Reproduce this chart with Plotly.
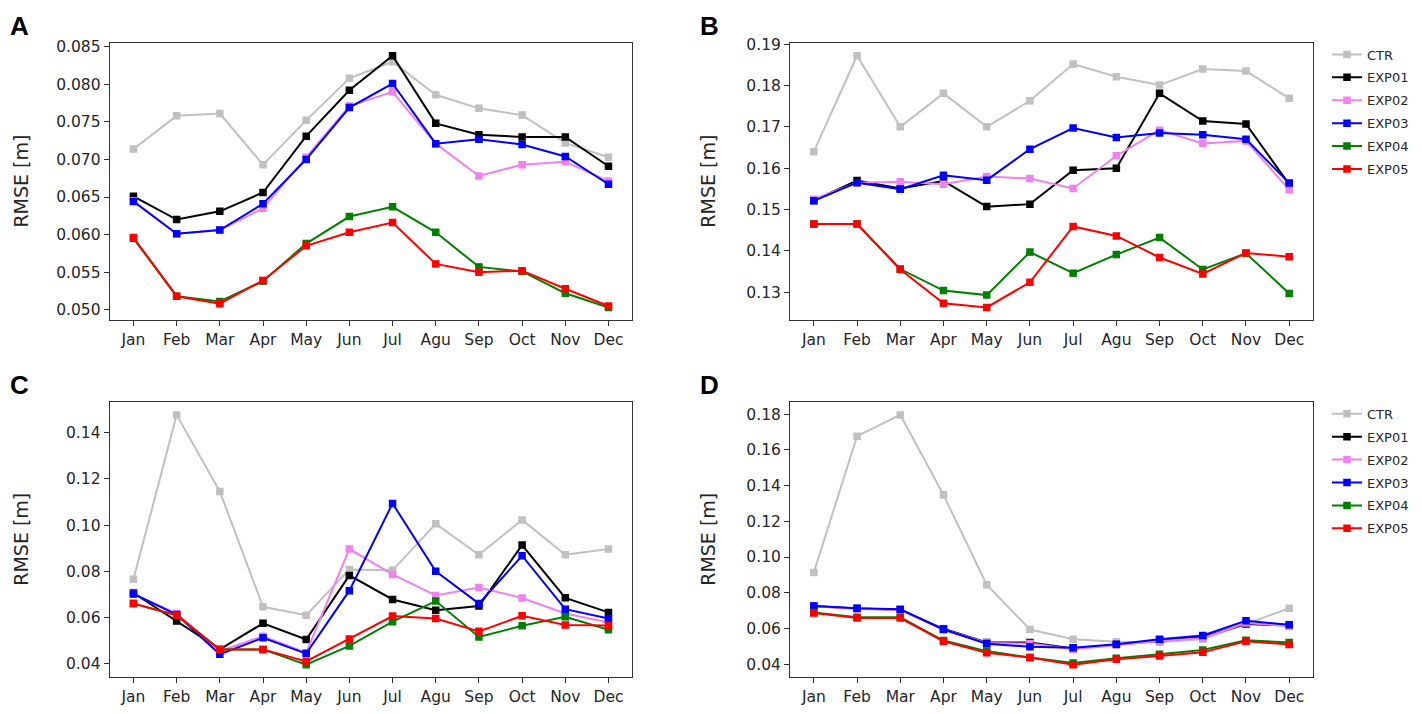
import plotly.graph_objects as go

# The page body has an 8px margin, so the figure is drawn 8px in from the top-left.
OFF = 8
W, H = 1422 - 2 * OFF, 714 - 2 * OFF

months = ["Jan", "Feb", "Mar", "Apr", "May", "Jun", "Jul", "Agu", "Sep", "Oct", "Nov", "Dec"]
series_names = ["CTR", "EXP01", "EXP02", "EXP03", "EXP04", "EXP05"]
series_colors = ["#c0c0c0", "#000000", "#ee82ee", "#0000ff", "#008000", "#ff0000"]

# Panel A
a_ctr   = [0.0714, 0.0758, 0.0761, 0.0693, 0.0752, 0.0808, 0.0830, 0.0786, 0.0768, 0.0759, 0.0722, 0.0703]
a_exp01 = [0.0651, 0.0620, 0.0631, 0.0656, 0.0731, 0.0792, 0.0838, 0.0748, 0.0733, 0.0730, 0.0730, 0.0691]
a_exp02 = [0.0645, 0.0601, 0.0606, 0.0635, 0.0703, 0.0771, 0.0790, 0.0721, 0.0678, 0.0693, 0.0697, 0.0671]
a_exp03 = [0.0644, 0.0601, 0.0606, 0.0641, 0.0700, 0.0769, 0.0801, 0.0721, 0.0727, 0.0720, 0.0704, 0.0667]
a_exp04 = [0.0595, 0.0518, 0.0511, 0.0538, 0.0588, 0.0624, 0.0637, 0.0603, 0.0557, 0.0551, 0.0522, 0.0503]
a_exp05 = [0.0596, 0.0518, 0.0508, 0.0539, 0.0585, 0.0603, 0.0616, 0.0561, 0.0550, 0.0552, 0.0528, 0.0505]

# Panel B
b_ctr   = [0.1640, 0.1872, 0.1700, 0.1781, 0.1700, 0.1763, 0.1852, 0.1821, 0.1801, 0.1840, 0.1835, 0.1769]
b_exp01 = [0.1522, 0.1570, 0.1551, 0.1569, 0.1507, 0.1513, 0.1595, 0.1600, 0.1781, 0.1714, 0.1707, 0.1561]
b_exp02 = [0.1525, 0.1565, 0.1567, 0.1561, 0.1580, 0.1575, 0.1551, 0.1630, 0.1692, 0.1660, 0.1666, 0.1548]
b_exp03 = [0.1521, 0.1565, 0.1549, 0.1583, 0.1571, 0.1646, 0.1697, 0.1674, 0.1685, 0.1681, 0.1670, 0.1564]
b_exp04 = [0.1465, 0.1465, 0.1356, 0.1304, 0.1293, 0.1397, 0.1346, 0.1391, 0.1432, 0.1355, 0.1394, 0.1297]
b_exp05 = [0.1465, 0.1465, 0.1355, 0.1273, 0.1263, 0.1324, 0.1459, 0.1436, 0.1384, 0.1344, 0.1395, 0.1386]

# Panel C
c_ctr   = [0.0766, 0.1477, 0.1146, 0.0647, 0.0611, 0.0808, 0.0805, 0.1006, 0.0872, 0.1023, 0.0872, 0.0897]
c_exp01 = [0.0707, 0.0586, 0.0463, 0.0576, 0.0506, 0.0783, 0.0679, 0.0632, 0.0651, 0.0914, 0.0686, 0.0623]
c_exp02 = [0.0703, 0.0618, 0.0456, 0.0520, 0.0449, 0.0897, 0.0787, 0.0696, 0.0731, 0.0685, 0.0618, 0.0579]
c_exp03 = [0.0703, 0.0614, 0.0442, 0.0513, 0.0445, 0.0717, 0.1094, 0.0801, 0.0661, 0.0868, 0.0637, 0.0597]
c_exp04 = [0.0661, 0.0611, 0.0463, 0.0463, 0.0397, 0.0478, 0.0583, 0.0672, 0.0517, 0.0565, 0.0604, 0.0548]
c_exp05 = [0.0661, 0.0611, 0.0463, 0.0463, 0.0411, 0.0508, 0.0607, 0.0597, 0.0541, 0.0608, 0.0569, 0.0566]

# Panel D
d_ctr   = [0.0913, 0.1677, 0.1796, 0.1348, 0.0845, 0.0594, 0.0539, 0.0525, 0.0522, 0.0540, 0.0625, 0.0713]
d_exp01 = [0.0726, 0.0711, 0.0704, 0.0598, 0.0521, 0.0521, 0.0488, 0.0510, 0.0534, 0.0552, 0.0625, 0.0616]
d_exp02 = [0.0724, 0.0709, 0.0703, 0.0594, 0.0518, 0.0515, 0.0484, 0.0508, 0.0530, 0.0545, 0.0630, 0.0614]
d_exp03 = [0.0726, 0.0713, 0.0707, 0.0594, 0.0514, 0.0497, 0.0492, 0.0512, 0.0539, 0.0561, 0.0643, 0.0620]
d_exp04 = [0.0689, 0.0662, 0.0662, 0.0532, 0.0473, 0.0437, 0.0406, 0.0433, 0.0455, 0.0479, 0.0534, 0.0521]
d_exp05 = [0.0686, 0.0658, 0.0658, 0.0528, 0.0464, 0.0437, 0.0397, 0.0428, 0.0446, 0.0466, 0.0528, 0.0510]

panels = [
    dict(label="A", data=[a_ctr, a_exp01, a_exp02, a_exp03, a_exp04, a_exp05], dtick=0.005, fmt=".3f", legend=None),
    dict(label="B", data=[b_ctr, b_exp01, b_exp02, b_exp03, b_exp04, b_exp05], dtick=0.01, fmt=".2f", legend="legend"),
    dict(label="C", data=[c_ctr, c_exp01, c_exp02, c_exp03, c_exp04, c_exp05], dtick=0.02, fmt=".2f", legend=None),
    dict(label="D", data=[d_ctr, d_exp01, d_exp02, d_exp03, d_exp04, d_exp05], dtick=0.02, fmt=".2f", legend="legend2"),
]

# screen pixel boxes (left, top, right, bottom)
boxes = [(110, 35.7, 634, 318.3), (792.3, 35.7, 1316.7, 318.3),
         (110, 402.3, 634, 682.7), (792.3, 402.3, 1316.7, 682.7)]
label_pos = [(8, 18), (700, 18), (8, 385), (700, 385)]
ytitle_x = [8, 697, 8, 697]


def px(x):
    return (x - OFF) / W


def py(y):
    return 1 - (y - OFF) / H


font_family = "DejaVu Sans"
tick_font = dict(family=font_family, size=15.5, color="#262626")

fig = go.Figure()
layout = dict(width=W, height=H, margin=dict(l=0, r=0, t=0, b=0),
              paper_bgcolor="white", plot_bgcolor="white", annotations=[], showlegend=True)

for i, p in enumerate(panels):
    n = "" if i == 0 else str(i + 1)
    xa, ya = "x" + n, "y" + n
    for k, (name, color) in enumerate(zip(series_names, series_colors)):
        tr = dict(x=months, y=p["data"][k], mode="lines+markers", name=name,
                  line=dict(color=color, width=2),
                  marker=dict(symbol="square", size=7.5, color=color),
                  xaxis=xa, yaxis=ya, legendgroup=name + p["label"])
        if p["legend"] is None:
            tr["showlegend"] = False
        else:
            tr["legend"] = p["legend"]
        fig.add_trace(go.Scatter(**tr))
    L, T, R, B = boxes[i]
    allv = [v for s in p["data"] for v in s]
    lo, hi = min(allv), max(allv)
    span = hi - lo
    axx = dict(domain=[px(L), px(R)], anchor=ya, range=[-0.55, 11.55], type="category",
               showline=True, linecolor="#333333", linewidth=1.2, mirror=True,
               ticks="outside", ticklen=5, tickwidth=1, tickcolor="#333333",
               showgrid=False, zeroline=False, tickfont=tick_font, fixedrange=True)
    axy = dict(domain=[py(B), py(T)], anchor=xa, range=[lo - 0.05 * span, hi + 0.05 * span],
               dtick=p["dtick"], tick0=0, tickformat=p["fmt"],
               showline=True, linecolor="#333333", linewidth=1.2, mirror=True,
               ticks="outside", ticklen=5, tickwidth=1, tickcolor="#333333",
               showgrid=False, zeroline=False, tickfont=tick_font, fixedrange=True)
    layout["xaxis" + n] = axx
    layout["yaxis" + n] = axy
    lx, ly = label_pos[i]
    layout["annotations"].append(dict(text="<b>%s</b>" % p["label"], x=px(lx), y=py(ly),
                                      xref="paper", yref="paper", xanchor="left", yanchor="middle",
                                      showarrow=False, font=dict(family="Liberation Sans", size=26, color="black")))
    layout["annotations"].append(dict(text="RMSE [m]", x=px(ytitle_x[i]), y=py((T + B) / 2),
                                      xref="paper", yref="paper", xanchor="left", yanchor="middle",
                                      textangle=-90, showarrow=False,
                                      font=dict(family=font_family, size=19, color="#262626")))

leg_common = dict(xanchor="left", yanchor="top", bgcolor="rgba(0,0,0,0)", borderwidth=0,
                  font=dict(family=font_family, size=13, color="#262626"), tracegroupgap=3,
                  itemwidth=30)
layout["legend"] = dict(x=px(1331), y=py(32), **leg_common)
layout["legend2"] = dict(x=px(1331), y=py(398.7), **leg_common)

fig.update_layout(**layout)
fig.write_html("out.html")
